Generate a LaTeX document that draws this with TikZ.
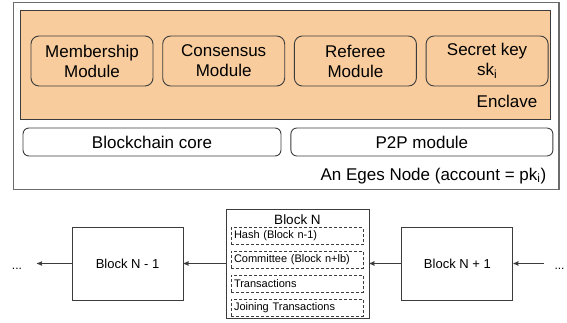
\documentclass[tikz,border=0pt]{standalone}
\usepackage{fontspec}
\setmainfont{Liberation Sans}
\usetikzlibrary{arrows,positioning}

\definecolor{enclavefill}{RGB}{249,204,157}
\definecolor{edgegray}{RGB}{60,60,60}

\begin{document}
\begin{tikzpicture}[x=1pt,y=-1pt,->,>=stealth',line width=0.9pt,
		module/.style={draw=edgegray,rounded corners=8pt,minimum width=122pt,minimum height=50pt,
			inner sep=0pt,align=center,font=\fontsize{17}{20}\selectfont},
		layer/.style={draw=edgegray,rounded corners=6pt,minimum height=28pt,inner sep=0pt,
			font=\fontsize{17}{20}\selectfont},
		block/.style={draw=edgegray,rectangle,inner sep=0pt,font=\fontsize{13}{15}\selectfont},
		field/.style={draw=edgegray,dash pattern=on 3pt off 2pt,minimum height=17pt,inner sep=3pt,
			text width=126pt,align=left,font=\fontsize{11}{13}\selectfont},
		every edge/.style={draw=edgegray,line width=0.9pt}]

		\useasboundingbox (0,0) rectangle (567,322);

		% the node and its enclave
		\node[draw=gray!85!black, line width=1.2pt, minimum width=545.7pt, minimum height=186.6pt, inner sep=0pt] (egesnode) at (286.2,96) {};
		\node[draw=edgegray, fill=enclavefill, minimum width=530pt, minimum height=109pt, inner sep=0pt] (enclave) at (285.9,64.5) {};

		\node[module] (membership) at (92,61) {Membership\\Module};
		\node[module] (consensus) [right=8.8pt of membership] {Consensus\\Module};
		\node[module] (referee) [right=8.8pt of consensus] {Referee\\Module};
		\node[module] (secretkey) [right=8.8pt of referee] {Secret key\\sk\textsubscript{i}};
		\node[anchor=base east, font=\fontsize{17}{20}\selectfont] (enclavelabel) at (541,107) {Enclave};

		\node[layer, minimum width=258pt] (core) at (152,142) {Blockchain core};
		\node[layer, minimum width=262pt] (p2p) [right=9pt of core] {P2P module};
		\node[anchor=base east, font=\fontsize{17}{20}\selectfont] (nodelabel) at (550,180) {An Eges Node (account = pk\textsubscript{i})};

		% the chain
		\node[block, minimum width=143pt, minimum height=109pt] (blockN) at (297.5,263.5) {};
		\node[block, minimum width=111pt, minimum height=73pt] (blockNprev) [left=42pt of blockN] {Block N - 1};
		\node[block, minimum width=111pt, minimum height=73pt] (blockNnext) [right=32pt of blockN] {Block N + 1};
		\node[font=\fontsize{13.5}{16}\selectfont, inner sep=0pt] (blockNtitle) at (297.5,220) {Block N};

		\node[field] (hash) at (297,236) {Hash (Block n-1)};
		\node[field] (committee) [below=6pt of hash] {Committee (Block n+lb)};
		\node[field] (transactions) [below=6pt of committee] {Transactions};
		\node[field] (joining) [below=6pt of transactions] {Joining Transactions};

		\node[anchor=base, font=\fontsize{12}{14}\selectfont] (dotsL) at (17,269) {...};
		\node[anchor=base, font=\fontsize{12}{14}\selectfont] (dotsR) at (559.5,269) {...};
		\coordinate (leftend) at (37,263.5);
		\coordinate (rightstart) at (544,263.5);

		\path
		(blockNnext) edge (blockN)
		(blockN) edge (blockNprev)
		(blockNprev) edge (leftend)
		(rightstart) edge (blockNnext);
	\end{tikzpicture}
\end{document}
